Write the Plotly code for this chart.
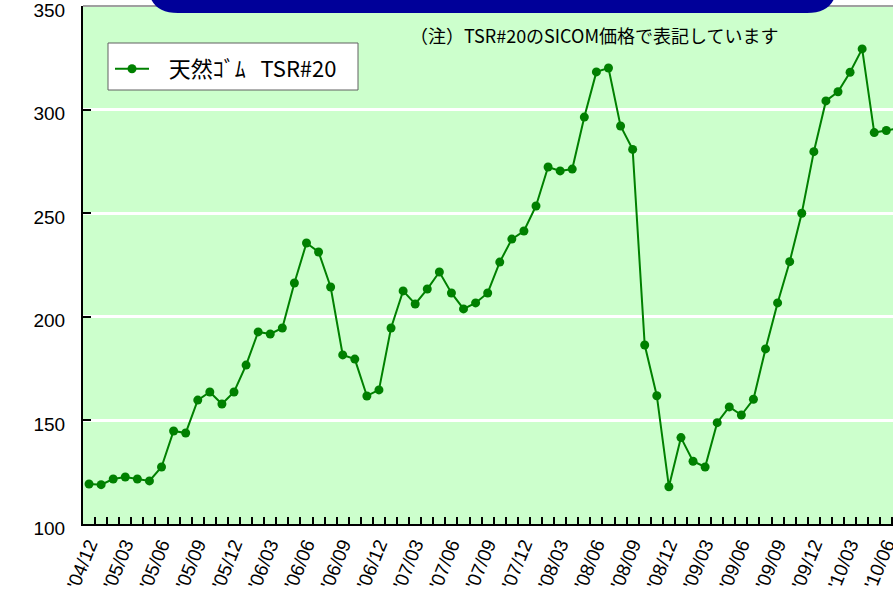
import plotly.graph_objects as go

# ---- data -------------------------------------------------------------
months = [
    "'04/12",
    "'05/01", "'05/02", "'05/03", "'05/04", "'05/05", "'05/06", "'05/07", "'05/08", "'05/09", "'05/10", "'05/11", "'05/12",
    "'06/01", "'06/02", "'06/03", "'06/04", "'06/05", "'06/06", "'06/07", "'06/08", "'06/09", "'06/10", "'06/11", "'06/12",
    "'07/01", "'07/02", "'07/03", "'07/04", "'07/05", "'07/06", "'07/07", "'07/08", "'07/09", "'07/10", "'07/11", "'07/12",
    "'08/01", "'08/02", "'08/03", "'08/04", "'08/05", "'08/06", "'08/07", "'08/08", "'08/09", "'08/10", "'08/11", "'08/12",
    "'09/01", "'09/02", "'09/03", "'09/04", "'09/05", "'09/06", "'09/07", "'09/08", "'09/09", "'09/10", "'09/11", "'09/12",
    "'10/01", "'10/02", "'10/03", "'10/04", "'10/05", "'10/06", "'10/07",
]
tsr20 = [
    119.3,
    119.0, 121.7, 122.7, 121.7, 120.8, 127.5, 144.9, 143.9, 159.8, 163.7, 157.9, 163.7,
    176.7, 192.7, 191.7, 194.6, 216.3, 235.6, 231.3, 214.4, 181.6, 179.6, 161.8, 164.7,
    194.6, 212.5, 206.2, 213.4, 221.6, 211.5, 203.8, 206.7, 211.5, 226.4, 237.5, 241.4,
    253.5, 272.3, 270.4, 271.3, 296.4, 318.2, 320.1, 292.1, 280.8, 186.4, 161.9, 118.0,
    141.7, 130.3, 127.5, 148.9, 156.5, 152.6, 160.2, 184.5, 206.7, 226.6, 250.0, 279.7,
    304.2, 308.6, 318.0, 329.3, 288.9, 289.9, 291.0,
]
tick_labels = ["'04/12", "'05/03", "'05/06", "'05/09", "'05/12", "'06/03", "'06/06",
               "'06/09", "'06/12", "'07/03", "'07/06", "'07/09", "'07/12", "'08/03",
               "'08/06", "'08/09", "'08/12", "'09/03", "'09/06", "'09/09", "'09/12",
               "'10/03", "'10/06"]
y_ticks = [100, 150, 200, 250, 300, 350]
series_name = "&nbsp;&nbsp;&nbsp;天然ｺﾞﾑ&nbsp;&nbsp;&nbsp;TSR#20"
note_text = "（注）TSR#20のSICOM価格で表記しています"

# ---- layout geometry (pixels) ----------------------------------------
W, H = 893, 599
ML, MR, MT, MB = 83, 0, 6, 75
PW, PH = W - ML - MR, H - MT - MB


def px_x(p):
    return (p - ML) / PW


def px_y(p):
    return (H - MB - p) / PH


x_idx = list(range(len(months)))
tick_pos = [months.index(t) for t in tick_labels]
boundaries = [i + 0.5 for i in x_idx]

TXT = "Liberation Sans, Arial, Noto Sans CJK JP, sans-serif"
JP = "Noto Sans CJK JP, Liberation Sans, sans-serif"

fig = go.Figure()
fig.add_trace(go.Scatter(
    x=x_idx, y=tsr20, mode="lines+markers", name=series_name,
    line=dict(color="#008000", width=2),
    marker=dict(color="#008000", size=9),
))

# rounded blue title box (cut by top edge)
x0, x1 = px_x(148), px_x(837)
yb, yt = px_y(13), px_y(-60)
rx, ry = 30 / PW, 30 / PH
box_path = (f"M {x0},{yt} L {x0},{yb + ry} Q {x0},{yb} {x0 + rx},{yb} "
            f"L {x1 - rx},{yb} Q {x1},{yb} {x1},{yb + ry} L {x1},{yt} Z")

shapes = [
    dict(type="line", xref="paper", yref="paper", x0=0, x1=1, y0=1, y1=1,
         line=dict(color="#a0a0a0", width=2), layer="above"),
    dict(type="path", xref="paper", yref="paper", path=box_path,
         fillcolor="#000099", line=dict(width=0), layer="above"),
    dict(type="rect", xref="paper", yref="paper",
         x0=px_x(108), x1=px_x(358), y0=px_y(90), y1=px_y(43),
         fillcolor="white", line=dict(color="#606060", width=1), layer="above"),
]

fig.update_layout(
    width=W, height=H,
    margin=dict(l=ML, r=MR, t=MT, b=MB, pad=0, autoexpand=False),
    paper_bgcolor="white",
    plot_bgcolor="#ccffcc",
    shapes=shapes,
    showlegend=True,
    legend=dict(
        x=px_x(110), y=px_y(48), xanchor="left", yanchor="top",
        bgcolor="rgba(0,0,0,0)", borderwidth=0,
        font=dict(family=JP, size=22, color="black"),
        itemwidth=34,
    ),
    annotations=[dict(
        text=note_text, xref="paper", yref="paper",
        x=px_x(594), y=px_y(35), xanchor="center", yanchor="middle",
        showarrow=False, font=dict(family=JP, size=18, color="black"),
    )],
    xaxis=dict(
        range=[-0.5, (PW / 12.08) - 0.5], automargin=False,
        tickmode="array", tickvals=tick_pos, ticktext=tick_labels,
        ticks="", tickangle=-68, ticklabeloverflow="allow",
        tickfont=dict(family=TXT, size=19, color="black"),
        showgrid=False, zeroline=False,
        showline=True, linecolor="black", linewidth=2,
        minor=dict(tickmode="array", tickvals=boundaries, ticks="inside",
                   ticklen=7, tickwidth=1.5, tickcolor="black", showgrid=False),
    ),
    yaxis=dict(
        range=[100, 350], tickmode="array", tickvals=y_ticks, automargin=False,
        ticks="inside", ticklen=8, tickwidth=2, tickcolor="black",
        tickfont=dict(family=TXT, size=19, color="black"),
        ticklabelstandoff=12, ticklabeloverflow="allow", ticklabelshift=4,
        showgrid=True, gridcolor="white", gridwidth=3,
        zeroline=False,
        showline=True, linecolor="black", linewidth=2,
    ),
)

fig.write_html(
    "out.html",
    config={"displayModeBar": False},
    post_script="document.body.style.margin='0';document.body.style.overflow='hidden';",
)
